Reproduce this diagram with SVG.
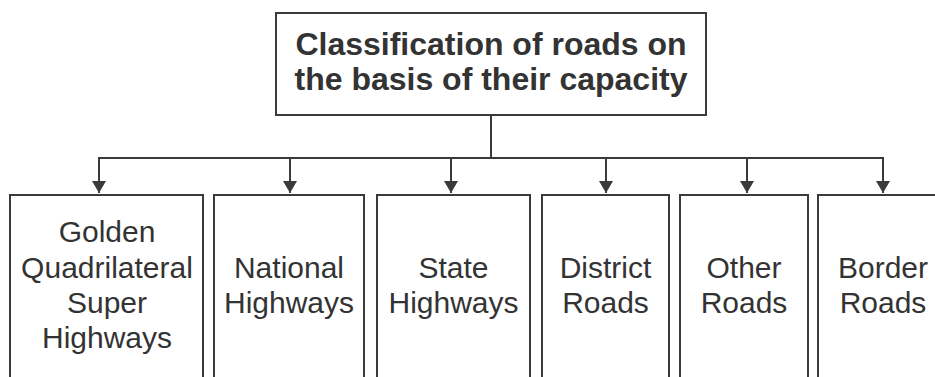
<svg xmlns="http://www.w3.org/2000/svg" width="935" height="377" viewBox="0 0 935 377">
<defs>
<style>
.box{fill:#fff;stroke:#3a3a3a;stroke-width:2}
.ln{fill:none;stroke:#3a3a3a;stroke-width:2}
.t{font-family:"Liberation Sans",Arial,sans-serif;fill:#333;text-anchor:middle}
.title{font-size:32px;font-weight:bold}
.lbl{font-size:30px}
</style>
<marker id="ah" markerWidth="12" markerHeight="14" refX="12" refY="7" orient="auto" markerUnits="userSpaceOnUse" viewBox="0 0 12 14">
<path d="M0,0 L12,7 L0,14 Z" fill="#3a3a3a"/>
</marker>
</defs>
<rect width="935" height="377" fill="#fff"/>
<g id="connectors">
<line class="ln" x1="491" y1="115" x2="491" y2="158"/>
<line class="ln" x1="98" y1="158" x2="884" y2="158"/>
<path class="ln" d="M99,158 V193" marker-end="url(#ah)"/>
<path class="ln" d="M290,158 V193" marker-end="url(#ah)"/>
<path class="ln" d="M451,158 V193" marker-end="url(#ah)"/>
<path class="ln" d="M606,158 V193" marker-end="url(#ah)"/>
<path class="ln" d="M747,158 V193" marker-end="url(#ah)"/>
<path class="ln" d="M883,158 V193" marker-end="url(#ah)"/>
</g>
<g id="root">
<rect class="box" x="276" y="13" width="430" height="102"/>
<text class="t title" x="491" y="55">Classification of roads on</text>
<text class="t title" x="491" y="90">the basis of their capacity</text>
</g>
<g id="golden">
<rect class="box" x="10" y="195" width="193" height="200"/>
<text class="t lbl" x="107" y="242">Golden</text>
<text class="t lbl" x="107" y="278">Quadrilateral</text>
<text class="t lbl" x="107" y="313">Super</text>
<text class="t lbl" x="107" y="348">Highways</text>
</g>
<g id="national">
<rect class="box" x="214" y="195" width="150" height="200"/>
<text class="t lbl" x="289" y="278">National</text>
<text class="t lbl" x="289" y="313">Highways</text>
</g>
<g id="state">
<rect class="box" x="377" y="195" width="153" height="200"/>
<text class="t lbl" x="453.5" y="278">State</text>
<text class="t lbl" x="453.5" y="313">Highways</text>
</g>
<g id="district">
<rect class="box" x="542" y="195" width="127" height="200"/>
<text class="t lbl" x="605.5" y="278">District</text>
<text class="t lbl" x="605.5" y="313">Roads</text>
</g>
<g id="other">
<rect class="box" x="680" y="195" width="128" height="200"/>
<text class="t lbl" x="744" y="278">Other</text>
<text class="t lbl" x="744" y="313">Roads</text>
</g>
<g id="border">
<rect class="box" x="818" y="195" width="130" height="200"/>
<text class="t lbl" x="883" y="278">Border</text>
<text class="t lbl" x="883" y="313">Roads</text>
</g>
</svg>
